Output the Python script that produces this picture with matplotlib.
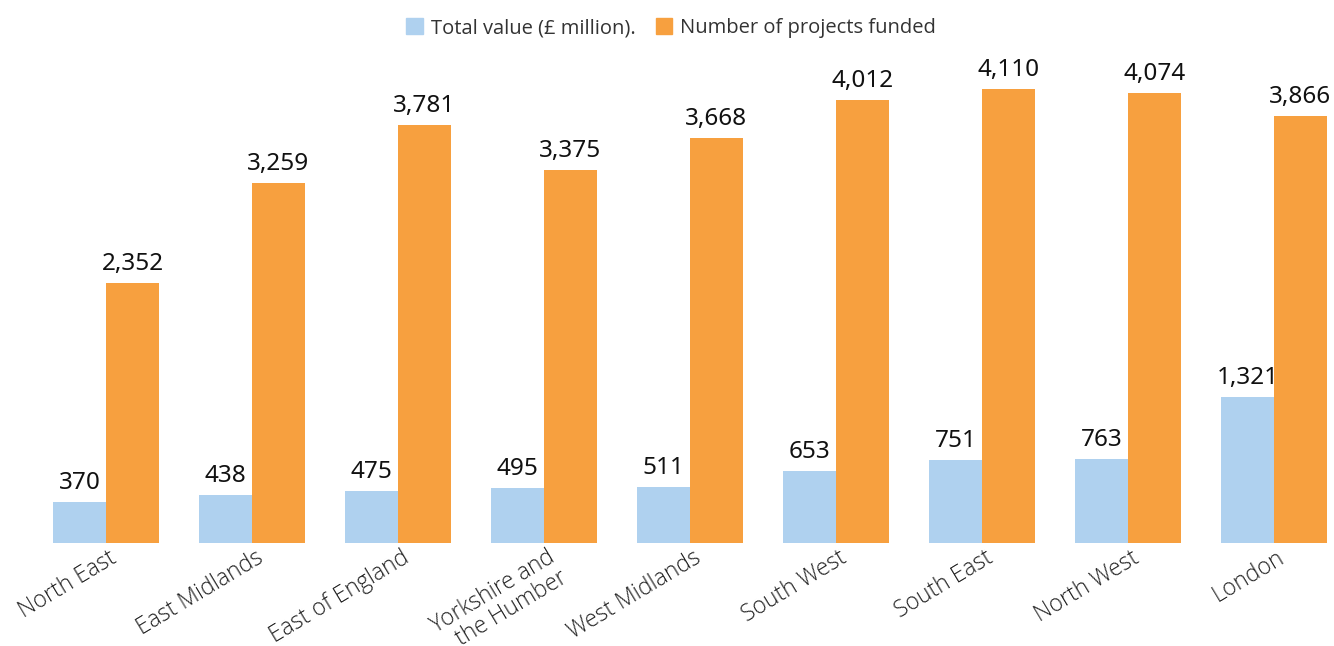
import numpy as np
import matplotlib.pyplot as plt
from matplotlib.patches import Patch

regions = ["North East", "East Midlands", "East of England", "Yorkshire and\nthe Humber",
           "West Midlands", "South West", "South East", "North West", "London"]
total_value = [370, 438, 475, 495, 511, 653, 751, 763, 1321]
num_projects = [2352, 3259, 3781, 3375, 3668, 4012, 4110, 4074, 3866]

blue = "#afd1ef"
orange = "#f7a03f"

fig = plt.figure(figsize=(13.34, 6.46), dpi=100)
# axes placed in pixel terms: baseline at y=543, top at y=50
ax = fig.add_axes([0, (646 - 543) / 646, 1, 493 / 646])

x = np.arange(len(regions))
w = 53 / 146
b1 = ax.bar(x - w / 2, total_value, w, color=blue)
b2 = ax.bar(x + w / 2, num_projects, w, color=orange)

for bars, vals in [(b1, total_value), (b2, num_projects)]:
    for rect, v in zip(bars, vals):
        ax.annotate(f"{v:,}", (rect.get_x() + rect.get_width() / 2, rect.get_height()),
                    xytext=(0, 5), textcoords="offset points", ha="center", va="bottom",
                    fontsize=17.5, family="Noto Sans", color="#111111")

ax.set_xlim(-106 / 146, (1334 - 106) / 146)
ax.set_ylim(0, 493 / 454 * 4110)
ax.set_xticks(x + 0.02)
ax.set_xticklabels(regions, rotation=31, ha="right", rotation_mode="anchor",
                   fontsize=16.5, family="Open Sans", fontweight="light", color="#222222",
                   linespacing=0.95)
ax.tick_params(axis="x", length=0, pad=2)
ax.set_yticks([])
for s in ax.spines.values():
    s.set_visible(False)

handles = [Patch(color=blue, label="Total value (£ million)."),
           Patch(color=orange, label="Number of projects funded")]
fig.legend(handles=handles, loc="upper center", bbox_to_anchor=(0.503, 1.0), ncol=2,
           frameon=False, prop={"family": "Open Sans", "size": 14.5},
           handlelength=0.8, handleheight=0.8, handletextpad=0.4, columnspacing=1.0,
           labelcolor="#333333")

fig.savefig("out.png", dpi=100)
